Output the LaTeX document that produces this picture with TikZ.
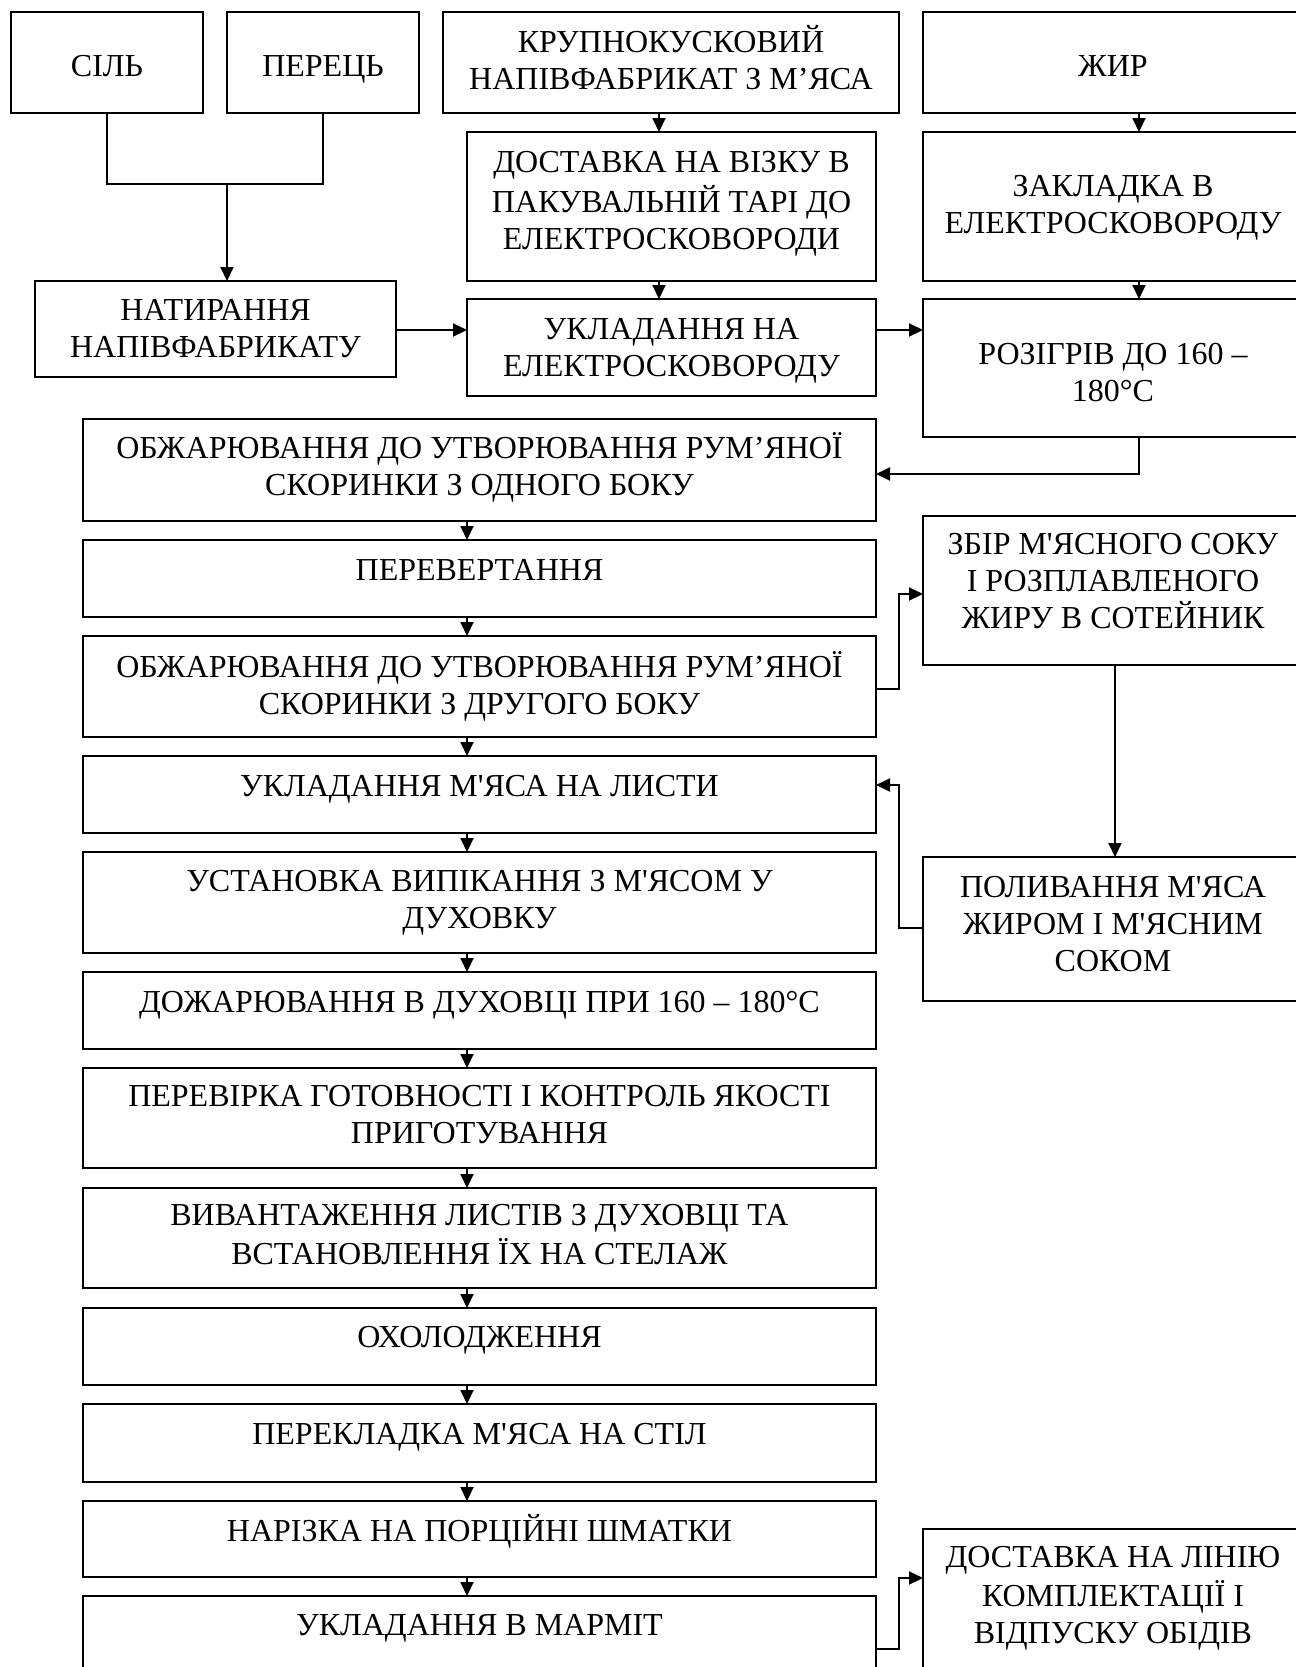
\documentclass[tikz,border=0pt]{standalone}
\usepackage{fontspec}
\setmainfont{Liberation Serif}
\usetikzlibrary{arrows.meta}
\newdimen\pxu \pxu=0.5pt
\newcommand\bx[4]{\parbox[c][#2\pxu][c]{#1\pxu}{\centering\strut #4\strut\par\vspace{#3\pxu}}}
\tikzset{
  box/.style={draw, line width=1pt, inner sep=0pt, outer sep=0pt, font=\fontsize{16pt}{18.5pt}\selectfont},
  conn/.style={line width=1pt},
  arr/.style={line width=1pt, -{Triangle[length=7pt,width=6.5pt]}}
}
\begin{document}
\begin{tikzpicture}[x=0.5pt,y=-0.5pt]
\useasboundingbox (0,0) rectangle (1296,1667);
\fill[white] (0,0) rectangle (1296,1667);
\clip (0,0) rectangle (1296,1667);
% helper coordinates
\coordinate (mx) at (467,0);
\coordinate (x659) at (659,0);
\coordinate (x1139) at (1139,0);
\coordinate (x1115) at (1115,0);
\coordinate (x899) at (899,0);
\coordinate (y330) at (0,330);
\coordinate (y474) at (0,474);
\coordinate (y689) at (0,689);
\coordinate (y594) at (0,594);
\coordinate (y928) at (0,928);
\coordinate (y785) at (0,785);
\coordinate (y1649) at (0,1649);
\coordinate (y1578) at (0,1578);
\coordinate (j) at (227,184);
% top row
\node[box] (sil) at (107,62.5) {\bx{192}{101}{-14}{СІЛЬ}};
\node[box] (perets) at (323,62.5) {\bx{192}{101}{-14}{ПЕРЕЦЬ}};
\node[box] (krup) at (671,62.5) {\bx{456}{101}{0}{КРУПНОКУСКОВИЙ\\НАПІВФАБРИКАТ З М’ЯСА}};
\node[box] (zhyr) at (1113,62.5) {\bx{380}{101}{-14}{ЖИР}};
% second / third rows
\node[box] (dost) at (671.5,206.5) {\bx{409}{149}{6}{ДОСТАВКА НА ВІЗКУ В\\ПАКУВАЛЬНІЙ ТАРІ ДО\\ЕЛЕКТРОСКОВОРОДИ}};
\node[box] (zakl) at (1113,206.5) {\bx{380}{149}{-2}{ЗАКЛАДКА В\\ЕЛЕКТРОСКОВОРОДУ}};
\node[box] (nat) at (215.5,329) {\bx{361}{96}{-6}{НАТИРАННЯ\\НАПІВФАБРИКАТУ}};
\node[box] (ukl) at (671.5,347.5) {\bx{409}{97}{-6}{УКЛАДАННЯ НА\\ЕЛЕКТРОСКОВОРОДУ}};
\node[box] (roz) at (1113,368) {\bx{380}{138}{-16}{РОЗІГРІВ ДО 160 –\\180°C}};
% main column
\node[box] (obzh1) at (479.5,470) {\bx{793}{102}{0}{ОБЖАРЮВАННЯ ДО УТВОРЮВАННЯ РУМ’ЯНОЇ\\СКОРИНКИ З ОДНОГО БОКУ}};
\node[box] (perev) at (479.5,578.5) {\bx{793}{77}{10}{ПЕРЕВЕРТАННЯ}};
\node[box] (obzh2) at (479.5,686.5) {\bx{793}{101}{-4}{ОБЖАРЮВАННЯ ДО УТВОРЮВАННЯ РУМ’ЯНОЇ\\СКОРИНКИ З ДРУГОГО БОКУ}};
\node[box] (uklm) at (479.5,794.5) {\bx{793}{77}{10}{УКЛАДАННЯ М\textquotesingle ЯСА НА ЛИСТИ}};
\node[box] (ustan) at (479.5,902.5) {\bx{793}{101}{0}{УСТАНОВКА ВИПІКАННЯ З М\textquotesingle ЯСОМ У\\ДУХОВКУ}};
\node[box] (dozh) at (479.5,1010.5) {\bx{793}{77}{10}{ДОЖАРЮВАННЯ В ДУХОВЦІ ПРИ 160 – 180°C}};
\node[box] (perevir) at (479.5,1118) {\bx{793}{100}{0}{ПЕРЕВІРКА ГОТОВНОСТІ І КОНТРОЛЬ ЯКОСТІ\\ПРИГОТУВАННЯ}};
\node[box] (vyvant) at (479.5,1238) {\bx{793}{100}{0}{ВИВАНТАЖЕННЯ ЛИСТІВ З ДУХОВЦІ ТА\\ВСТАНОВЛЕННЯ ЇХ НА СТЕЛАЖ}};
\node[box] (okhol) at (479.5,1346.5) {\bx{793}{77}{12}{ОХОЛОДЖЕННЯ}};
\node[box] (perekl) at (479.5,1443) {\bx{793}{78}{12}{ПЕРЕКЛАДКА М\textquotesingle ЯСА НА СТІЛ}};
\node[box] (nariz) at (479.5,1539) {\bx{793}{76}{12}{НАРІЗКА НА ПОРЦІЙНІ ШМАТКИ}};
\node[box] (marmit) at (479.5,1634.5) {\bx{793}{77}{12}{УКЛАДАННЯ В МАРМІТ}};
% right column lower
\node[box] (zbir) at (1113,590.5) {\bx{380}{149}{12}{ЗБІР М\textquotesingle ЯСНОГО СОКУ\\І РОЗПЛАВЛЕНОГО\\ЖИРУ В СОТЕЙНИК}};
\node[box] (polyv) at (1113,929) {\bx{380}{144}{4}{ПОЛИВАННЯ М\textquotesingle ЯСА\\ЖИРОМ І М\textquotesingle ЯСНИМ\\СОКОМ}};
\node[box] (dostl) at (1113,1602) {\bx{380}{146}{8}{ДОСТАВКА НА ЛІНІЮ\\КОМПЛЕКТАЦІЇ І\\ВІДПУСКУ ОБІДІВ}};
% connectors
\draw[conn] (sil.south) |- (j) -| (perets.south);
\draw[arr] (j) -- (nat.north -| j);
\draw[arr] (nat.east |- y330) -- (ukl.west |- y330);
\draw[arr] (ukl.east |- y330) -- (roz.west |- y330);
\draw[arr] (krup.south -| x659) -- (dost.north -| x659);
\draw[arr] (dost.south -| x659) -- (ukl.north -| x659);
\draw[arr] (zhyr.south -| x1139) -- (zakl.north -| x1139);
\draw[arr] (zakl.south -| x1139) -- (roz.north -| x1139);
\draw[arr] (roz.south -| x1139) |- (obzh1.east |- y474);
\foreach \a/\b in {obzh1/perev, perev/obzh2, obzh2/uklm, uklm/ustan, ustan/dozh, dozh/perevir, perevir/vyvant, vyvant/okhol, okhol/perekl, perekl/nariz, nariz/marmit}
  \draw[arr] (\a.south -| mx) -- (\b.north -| mx);
\draw[arr] (obzh2.east |- y689) -| (x899 |- y594) -- (zbir.west |- y594);
\draw[arr] (zbir.south -| x1115) -- (polyv.north -| x1115);
\draw[arr] (polyv.west |- y928) -| (x899 |- y785) -- (uklm.east |- y785);
\draw[arr] (marmit.east |- y1649) -| (x899 |- y1578) -- (dostl.west |- y1578);
\end{tikzpicture}
\end{document}
